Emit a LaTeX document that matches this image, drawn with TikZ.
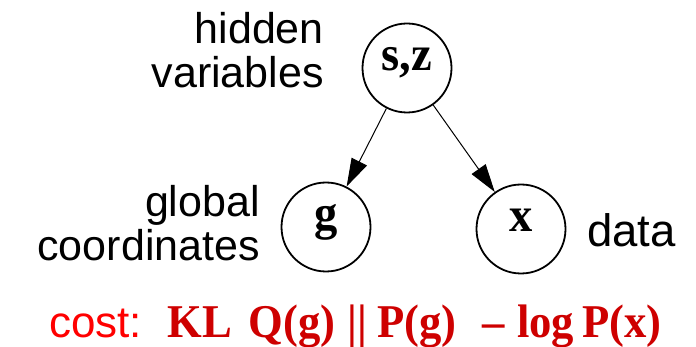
\documentclass[tikz,border=0pt]{standalone}
\usepackage{fontspec}
\setmainfont{Liberation Serif}
\setsansfont{Liberation Sans}
\newfontfamily\tallserif[FakeStretch=0.95]{Liberation Serif Bold}
\usetikzlibrary{arrows.meta}
\definecolor{costred}{RGB}{255,0,0}
\definecolor{klred}{RGB}{206,0,0}
\tikzset{
  var/.style={circle, draw, line width=1.8pt, minimum size=89pt, inner sep=0pt,
    font=\tallserif\fontsize{49}{49}\selectfont, text height=1ex, text depth=0pt},
  lbl/.style={inner sep=0pt, font=\sffamily\fontsize{43}{44.4}\selectfont},
  edge/.style={line width=1pt, -{Triangle[length=28pt,width=17pt]}},
  costtxt/.style={inner sep=0pt, anchor=base west, text=costred, font=\sffamily\fontsize{44}{44}\selectfont},
  kltxt/.style={inner sep=0pt, anchor=base west, text=klred, font=\tallserif\fontsize{47}{47}\selectfont}
}
\begin{document}
\begin{tikzpicture}[x=1pt,y=-1pt]
\useasboundingbox (0,0) rectangle (696,347);
\node[var] (sz) at (407,68) {s,z};
\node[var] (g) at (326,227) {g};
\node[var] (x) at (521,229) {x};
\draw[edge] (sz) -- (g);
\draw[edge] (sz) -- (x);
\node[lbl, anchor=base east] (hid1) at (324,43.3) {hidden};
\node[lbl, anchor=base east] (hid2) at (324,87.7) {variables};
\node[lbl, anchor=base east] (glo1) at (260,216.7) {global};
\node[lbl, anchor=base east] (glo2) at (260,260.7) {coordinates};
\node[lbl, anchor=base west, font=\sffamily\fontsize{45.5}{45.5}\selectfont] (data) at (587,246.7) {data};
\node[costtxt] (cost) at (49,337.7) {cost:};
\node[kltxt] (kl) at (167.5,337.7) {KL};
\node[kltxt] (qg) at (248.5,337.7) {Q(g)};
\node[kltxt] (bars) at (347,337.7) {||};
\node[kltxt] (pg) at (377.3,337.7) {P(g)};
\node[kltxt] (minus) at (482,337.7) {–};
\node[kltxt] (log) at (517,337.7) {log};
\node[kltxt] (px) at (582.3,337.7) {P(x)};
\end{tikzpicture}
\end{document}
